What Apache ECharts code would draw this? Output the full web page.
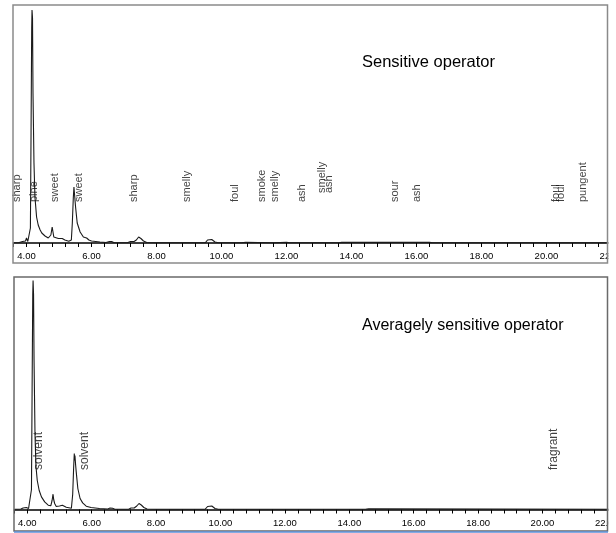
<!DOCTYPE html>
<html><head><meta charset="utf-8">
<script src="https://cdn.jsdelivr.net/npm/echarts@6/dist/echarts.min.js"></script>
<style>html,body{margin:0;padding:0;background:#fff}#c{width:616px;height:533px}</style>
</head><body><div id="c"></div>
<script>
// ---- data ----
const topTitle = 'Sensitive operator';
const bottomTitle = 'Averagely sensitive operator';

// retention time (min) and detector signal, sensitive operator run
const topRT = [3.60,3.75,3.88,3.93,3.97,4.00,4.04,4.09,4.12,4.14,4.16,4.17,4.185,4.20,4.23,4.26,4.31,4.36,4.42,4.47,4.57,4.67,4.72,4.75,4.79,4.81,4.84,4.90,4.98,5.04,5.10,5.18,5.30,5.35,5.38,5.41,5.44,5.46,5.48,5.51,5.56,5.65,5.75,5.80,5.85,5.92,6.00,6.26,6.45,6.55,6.62,6.70,7.10,7.20,7.25,7.31,7.38,7.45,7.52,7.60,7.70,8.00,9.50,9.57,9.63,9.70,9.80,9.90,10.50,10.55,10.60,10.75,10.80,11.50,11.55,11.60,12.00,12.10,13.60,13.70,16.40,16.50,22.30];
const topSignal = [0.3,0.3,1.5,0.5,2,5,1.5,2,15,110,215,233,225,150,80,46,26,18,13,10,7,5,4.5,8,16,12,6,5,4.5,5.5,4.5,3,1.8,1.5,3,20,45,56,48,36,20,11,6,5.5,5,3,2,1,0.5,1.5,1.5,0.3,0.3,1.5,3,1.5,3,6,4.5,2,0.5,0.2,0.2,3,4.5,3.5,1,0.3,0.3,1,0.3,0.8,0.2,0.3,0.8,0.2,0.8,0.2,0.2,0.6,0.6,0.2,0.2];

// averagely sensitive operator run
const botRT = [3.60,3.80,3.87,3.92,3.97,4.00,4.04,4.10,4.13,4.15,4.17,4.18,4.195,4.21,4.24,4.27,4.31,4.37,4.44,4.54,4.65,4.73,4.77,4.80,4.82,4.85,4.90,5.00,5.09,5.15,5.21,5.37,5.41,5.44,5.46,5.47,5.48,5.50,5.52,5.57,5.64,5.72,5.78,5.83,5.98,6.24,6.50,6.57,6.65,6.72,7.15,7.22,7.27,7.32,7.40,7.47,7.54,7.62,7.72,8.00,9.52,9.60,9.66,9.73,9.83,9.93,12.00,12.05,12.10,14.50,14.60,22.30];
const botSignal = [0.3,0.5,1.5,0.5,2,3,1,2,20,120,215,229,215,150,75,43,29,19,12.6,7.6,4.3,3.7,9,15.3,10,6,3,3.5,4.3,3,2.3,1.3,15,42,56,49,54,45,37.6,21,11,6.6,5,3.3,2,1,0.5,1.5,1.2,0.3,0.3,1.5,3,1.5,3.5,6,4.5,2,0.5,0.2,0.2,3,4.5,3.5,1,0.3,0.3,0.8,0.2,0.2,0.6,0.2];

// odour annotations (name, retention time)
const topLabelNames = ['sharp','pine','sweet','sweet','sharp','smelly','foul','smoke','smelly','ash','sour','ash','foul','foul','pungent'];
const topLabelRT = [3.71,4.23,4.88,5.62,7.31,8.94,10.42,11.25,11.65,12.48,15.34,16.02,20.30,20.46,21.12];
const topLabelNames2 = ['smelly','ash'];
const topLabelRT2 = [13.10,13.31];
const botLabelNames = ['solvent','solvent','fragrant'];
const botLabelRT = [4.36,5.79,20.36];

// ---- chart ----
const pairs = (xs, ys) => xs.map((x, i) => [x, ys[i]]);
const marks = (names, xs, level) => names.map((n, i) => ({ name: n, value: [xs[i], level] }));

function xAxisFor(gridIndex, max, margin) {
  return {
    type: 'value', gridIndex, min: 3.6, max, interval: 0.4,
    axisLine: { show: true, onZero: false, lineStyle: { color: '#000', width: 1.5 } },
    axisTick: { show: true, length: 4, lineStyle: { color: '#000', width: 1 } },
    splitLine: { show: false },
    axisLabel: {
      margin, fontFamily: 'Liberation Sans Narrow, Liberation Sans, sans-serif', fontSize: 9.5, color: '#000',
      formatter: v => { const r = Math.round(v); return (Math.abs(v - r) < 1e-6 && r % 2 === 0) ? r.toFixed(2) : ''; }
    }
  };
}
function labelSeries(xi, data, size) {
  return {
    type: 'scatter', xAxisIndex: xi, yAxisIndex: xi, data, symbolSize: 1,
    itemStyle: { color: 'rgba(0,0,0,0)' }, silent: true, z: 5,
    label: { show: true, position: 'inside', rotate: 90, align: 'left', verticalAlign: 'middle',
      formatter: '{b}', fontFamily: 'Liberation Sans, Arial, sans-serif', fontSize: size, color: '#111' }
  };
}

const chart = echarts.init(document.getElementById('c'), null, { renderer: 'canvas' });
chart.setOption({
  animation: false,
  backgroundColor: '#fff',
  title: [
    { text: topTitle, left: 362, top: 54, padding: 0, textStyle: { fontSize: 16.5, fontWeight: 'normal', fontFamily: 'Liberation Sans, Arial, sans-serif', color: '#000' } },
    { text: bottomTitle, left: 362, top: 318, padding: 0, textStyle: { fontSize: 16, fontWeight: 'normal', fontFamily: 'Liberation Sans, Arial, sans-serif', color: '#000' } }
  ],
  grid: [
    { left: 13.5, top: 5, width: 602.5, height: 238, containLabel: false, outerBoundsMode: 'none' },
    { left: 14.4, top: 277, width: 601.6, height: 232.5, containLabel: false, outerBoundsMode: 'none' }
  ],
  xAxis: [xAxisFor(0, 3.6 + 602.5 / 32.5, 8), xAxisFor(1, 3.6 + 601.6 / 32.2, 9)],
  yAxis: [
    { type: 'value', gridIndex: 0, min: 0, max: 238, show: false, splitLine: { show: false } },
    { type: 'value', gridIndex: 1, min: 0, max: 232.5, show: false, splitLine: { show: false } }
  ],
  series: [
    { type: 'line', xAxisIndex: 0, yAxisIndex: 0, data: pairs(topRT, topSignal), symbol: 'none', lineStyle: { color: '#1a1a1a', width: 1.1 }, z: 3 },
    { type: 'line', xAxisIndex: 1, yAxisIndex: 1, data: pairs(botRT, botSignal), symbol: 'none', lineStyle: { color: '#1a1a1a', width: 1.1 }, z: 3 },
    labelSeries(0, marks(topLabelNames, topLabelRT, 41), 11),
    labelSeries(0, marks(topLabelNames2, topLabelRT2, 50), 11),
    labelSeries(1, marks(botLabelNames, botLabelRT, 39.5), 12)
  ],
  graphic: [
    { type: 'rect', z: 100, shape: { x: 608.3, y: 0, width: 10, height: 533 }, style: { fill: '#fff' }, silent: true },
    { type: 'rect', z: 101, shape: { x: 13, y: 5, width: 594.5, height: 258 }, style: { fill: 'none', stroke: '#8a8a8a', lineWidth: 1.5 }, silent: true },
    { type: 'rect', z: 101, shape: { x: 14, y: 277, width: 593.5, height: 254 }, style: { fill: 'none', stroke: '#6a6a6a', lineWidth: 1.5 }, silent: true },
    { type: 'line', z: 102, shape: { x1: 14, y1: 532, x2: 608, y2: 532 }, style: { stroke: '#5b8fd8', lineWidth: 1.5 }, silent: true }
  ]
});
</script></body></html>
